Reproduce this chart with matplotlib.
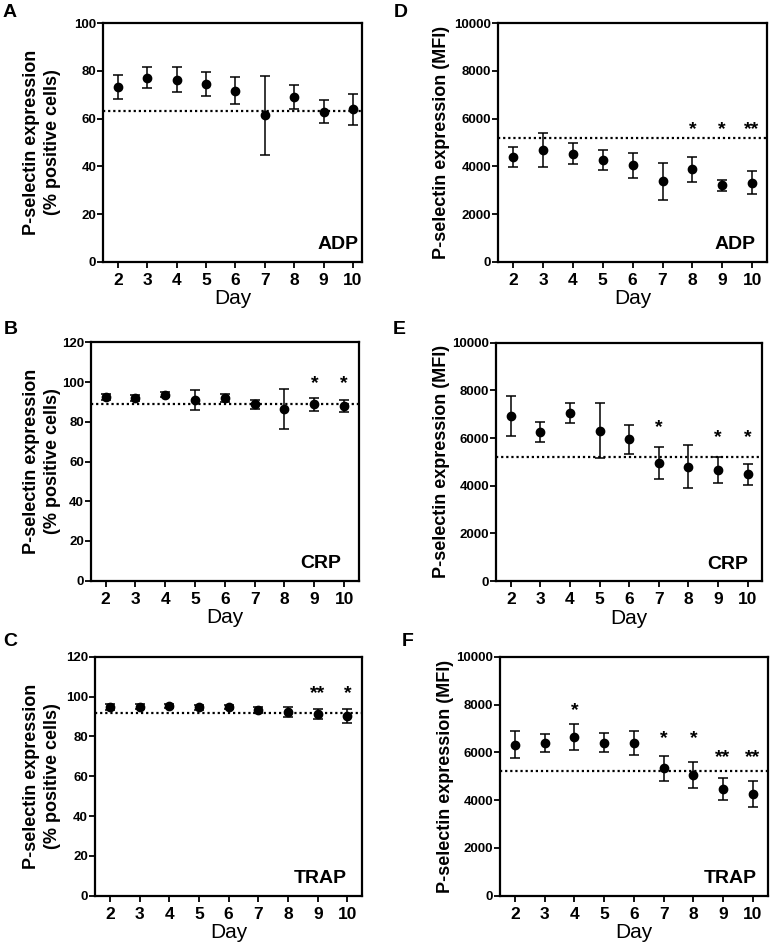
import matplotlib
matplotlib.use("Agg")
import matplotlib.pyplot as plt

plt.rcParams['font.family'] = ['Liberation Sans', 'DejaVu Sans']

W, H = 772, 952

days = [2, 3, 4, 5, 6, 7, 8, 9, 10]

# % positive cells
adp_pct_mean = [73.4, 77.2, 76.3, 74.7, 71.8, 61.4, 69.1, 63.0, 63.9]
adp_pct_err = [5.0, 4.3, 5.3, 5.0, 5.5, 16.5, 5.2, 4.7, 6.4]
adp_pct_ref = 63.4
crp_pct_mean = [92.3, 91.8, 93.7, 91.0, 92.0, 88.7, 86.3, 88.8, 87.8]
crp_pct_err = [1.5, 1.5, 1.2, 5.0, 1.9, 2.3, 10.0, 3.2, 3.0]
crp_pct_ref = 88.7
trap_pct_mean = [94.6, 94.9, 95.2, 94.7, 94.9, 93.2, 92.2, 91.1, 90.0]
trap_pct_err = [1.5, 1.3, 1.0, 1.3, 1.0, 1.5, 2.7, 2.5, 3.5]
trap_pct_ref = 91.5

# MFI
adp_mfi_mean = [4400, 4690, 4530, 4280, 4040, 3370, 3870, 3210, 3310]
adp_mfi_err = [420, 700, 430, 420, 540, 780, 530, 230, 490]
crp_mfi_mean = [6940, 6260, 7060, 6300, 5950, 4940, 4800, 4660, 4480]
crp_mfi_err = [835, 415, 430, 1150, 610, 670, 900, 550, 440]
trap_mfi_mean = [6320, 6380, 6640, 6410, 6385, 5330, 5050, 4460, 4260]
trap_mfi_err = [570, 365, 535, 395, 505, 520, 525, 460, 550]
mfi_ref = 5200

# significance marks: (day, label, height)
crp_pct_sig_days = [9, 10]
crp_pct_sig_labels = ['*', '*']
crp_pct_sig_y = [99.2, 99.2]
trap_pct_sig_days = [9, 10]
trap_pct_sig_labels = ['**', '*']
trap_pct_sig_y = [101.7, 101.7]
adp_mfi_sig_days = [8, 9, 10]
adp_mfi_sig_labels = ['*', '*', '**']
adp_mfi_sig_y = [5540, 5540, 5540]
crp_mfi_sig_days = [7, 9, 10]
crp_mfi_sig_labels = ['*', '*', '*']
crp_mfi_sig_y = [6420, 6000, 6000]
trap_mfi_sig_days = [4, 7, 8, 9, 10]
trap_mfi_sig_labels = ['*', '*', '*', '**', '**']
trap_mfi_sig_y = [7750, 6570, 6570, 5800, 5800]

pct_label = "P-selectin expression\n(% positive cells)"
mfi_label = "P-selectin expression (MFI)"

fig = plt.figure(figsize=(W / 100, H / 100), dpi=100)


def make_ax(l, r, t, b):
    return fig.add_axes([l / W, 1 - b / H, (r - l) / W, (b - t) / H])


panels = [
    # letter, box(l,r,t,b), letter pos, means, errs, ref, ylim, yticks, ylabel, label_x, agonist, agonist_x, sig, xlim_right
    ('A', (103.3, 361.7, 23.3, 261.7), (3, 4), adp_pct_mean, adp_pct_err, adp_pct_ref,
     100, list(range(0, 101, 20)), pct_label, -0.237, 'ADP', 0.986, ([], [], []), 10.3),
    ('B', (90.7, 359.0, 342.3, 580.7), (4, 321), crp_pct_mean, crp_pct_err, crp_pct_ref,
     120, list(range(0, 121, 20)), pct_label, -0.18, 'CRP', 0.935,
     (crp_pct_sig_days, crp_pct_sig_labels, crp_pct_sig_y), 10.5),
    ('C', (95.0, 362.3, 656.7, 895.7), (3, 633), trap_pct_mean, trap_pct_err, trap_pct_ref,
     120, list(range(0, 121, 20)), pct_label, -0.197, 'TRAP', 0.942,
     (trap_pct_sig_days, trap_pct_sig_labels, trap_pct_sig_y), 10.5),
    ('D', (498.3, 767.0, 23.3, 261.7), (394, 4), adp_mfi_mean, adp_mfi_err, mfi_ref,
     10000, list(range(0, 10001, 2000)), mfi_label, -0.21, 'ADP', 0.959,
     (adp_mfi_sig_days, adp_mfi_sig_labels, adp_mfi_sig_y), 10.5),
    ('E', (496.0, 762.3, 342.7, 581.0), (393, 321), crp_mfi_mean, crp_mfi_err, mfi_ref,
     10000, list(range(0, 10001, 2000)), mfi_label, -0.204, 'CRP', 0.946,
     (crp_mfi_sig_days, crp_mfi_sig_labels, crp_mfi_sig_y), 10.5),
    ('F', (500.0, 767.7, 656.7, 895.7), (402, 633), trap_mfi_mean, trap_mfi_err, mfi_ref,
     10000, list(range(0, 10001, 2000)), mfi_label, -0.205, 'TRAP', 0.959,
     (trap_mfi_sig_days, trap_mfi_sig_labels, trap_mfi_sig_y), 10.5),
]

for (letter, box, lpos, means, errs, ref, ymax, yticks, ylabel, lab_x,
     agonist, ag_x, sig, xr) in panels:
    ax = make_ax(*box)
    ax.errorbar(days, means, yerr=errs, fmt='o', color='black', ms=6,
                ecolor='black', elinewidth=1.1, capsize=3.5, capthick=1.1, zorder=3)
    ax.axhline(ref, color='black', linestyle=(0, (1, 1.3)), linewidth=1.6, zorder=2)
    ax.set_xlim(1.5, xr)
    ax.set_ylim(0, ymax)
    ax.set_xticks(days)
    ax.set_xticklabels([str(d) for d in days], fontsize=12.5, fontweight='bold')
    ax.set_yticks(yticks)
    ax.set_yticklabels([str(v) for v in yticks], fontsize=9.5, fontweight='bold')
    for s in ax.spines.values():
        s.set_linewidth(1.6)
    ax.tick_params(axis='both', direction='out', length=4, width=1.3)
    ax.tick_params(axis='y', pad=1)
    ax.tick_params(axis='x', pad=4)
    ax.set_xlabel('Day', fontsize=15, labelpad=1)
    ax.set_ylabel(ylabel, fontsize=13, fontweight='bold', linespacing=1.3)
    ax.yaxis.set_label_coords(lab_x, 0.5)
    ax.yaxis.label.set_va('center')
    ax.text(ag_x, 0.035, agonist, transform=ax.transAxes, ha='right', va='bottom',
            fontsize=14, fontweight='bold')
    for d, lab, yv in zip(*sig):
        ax.text(d, yv, lab, ha='center', va='center', fontsize=14, fontweight='bold')
    fig.text(lpos[0] / W, 1 - lpos[1] / H, letter, ha='left', va='top',
             fontsize=14, fontweight='bold')

fig.savefig('out.png', dpi=100)
